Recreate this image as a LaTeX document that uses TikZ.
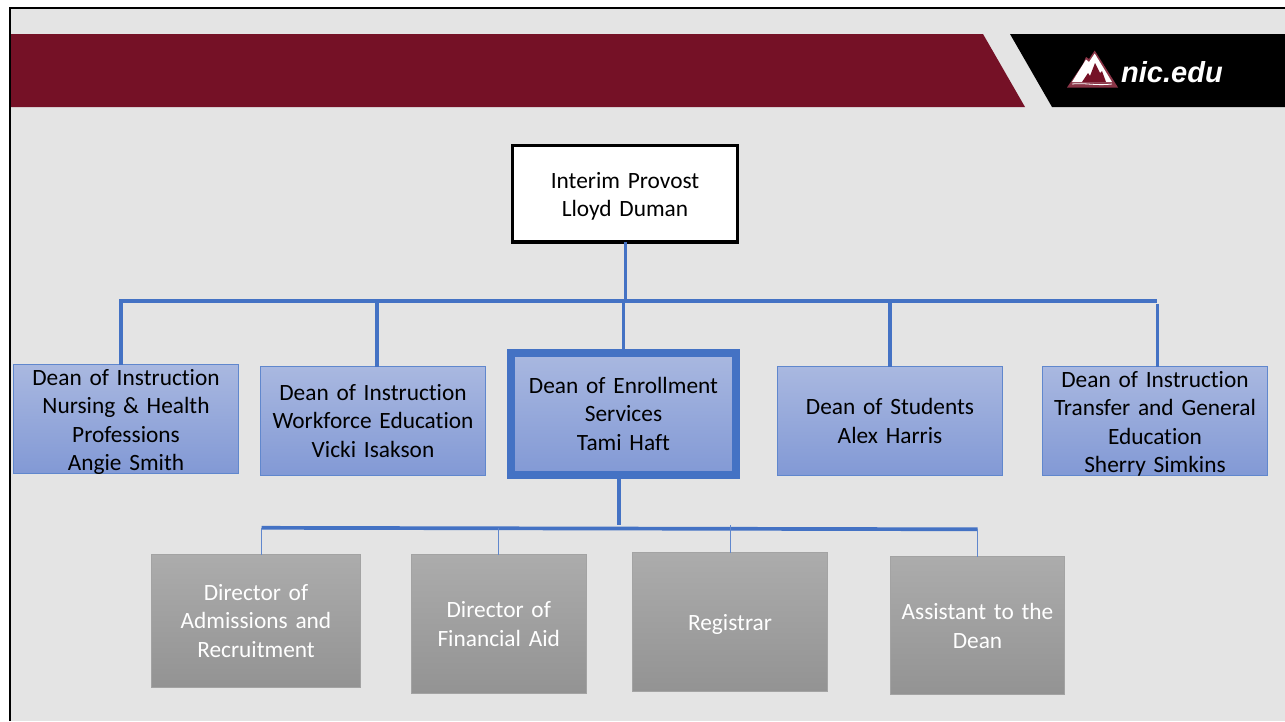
\documentclass[tikz,border=0pt]{standalone}
\usepackage{fontspec}
\setmainfont{Carlito}[Ligatures=NoCommon,WordSpace=0.75]
\newfontfamily\logofont{Liberation Sans}
\definecolor{bg}{HTML}{E4E4E4}
\definecolor{maroon}{HTML}{751126}
\definecolor{linkblue}{HTML}{4472C4}
\definecolor{bluetop}{HTML}{A9B8E0}
\definecolor{bluebot}{HTML}{8299D5}
\definecolor{greytop}{HTML}{ACACAC}
\definecolor{greybot}{HTML}{939393}
\definecolor{greyedge}{HTML}{A3A3A3}
\tikzset{
  x=1pt,y=-1pt,
  boxbase/.style={anchor=north west,inner sep=0pt,outer sep=0pt,align=center,font=\fontsize{23.35}{28.6}\selectfont},
  above centre/.style={text height=0pt,text depth=#1*2},
  below centre/.style={text height=#1*2,text depth=0pt},
  provost/.style={boxbase,draw=black,line width=3.5pt,fill=white,text=black},
  dean/.style={boxbase,draw=linkblue!85!white,line width=1pt,top color=bluetop,bottom color=bluebot,text=black},
  chosen/.style={boxbase,draw=linkblue,line width=8pt,top color=bluetop,bottom color=bluebot,text=black},
  staff/.style={boxbase,draw=greyedge,line width=1pt,top color=greytop,bottom color=greybot,text=white},
  bus/.style={draw=linkblue,line width=3.7pt},
  drop/.style={draw=linkblue,line width=3.3pt},
  thin drop/.style={draw=linkblue!85!white,line width=1pt},
}
\newcommand{\boxat}[7]{% style,name,x0,y0,x1,y1,text
  \pgfmathsetmacro{\bw}{#5-#3}\pgfmathsetmacro{\bh}{#6-#4}
  \node[#1,minimum width=\bw pt,minimum height=\bh pt,text width=\bw pt] (#2) at (#3,#4) {#7};
}
\begin{document}
\begin{tikzpicture}
\useasboundingbox (0,0) rectangle (1285,721);
\fill[white] (0,0) rectangle (1285,721);
\fill[bg] (9,8) rectangle (1285,721);
\draw[black,line width=2.2pt] (9.6,721) -- (9.6,8.3) -- (1285,8.3);
% banner
\fill[maroon] (11,34) -- (983,34) -- (1025,107) -- (11,107) -- cycle;
\fill[black] (1010,34) -- (1285,34) -- (1285,107) -- (1052,107) -- cycle;
% logo
\fill[maroon!85!white] (1067,87.5) -- (1083,64) -- (1086,57) -- (1089,59) -- (1094.7,50.5) -- (1118,87.5) -- cycle;
\fill[white] (1072,82) -- (1086,59.5) -- (1089,62) -- (1094.7,53.5) -- (1112,82) -- cycle;
\fill[maroon] (1082,82) -- (1088,73) -- (1090,76) -- (1095,63) -- (1100,73) -- (1102,71) -- (1106,82) -- cycle;
\draw[white,line width=0.8pt] (1072,84) .. controls (1085,82.5) and (1095,86) .. (1112,84);
\node[inner sep=0pt,anchor=west,text=white,font=\logofont\bfseries\itshape\fontsize{29}{30}\selectfont] (logo) at (1121,72) {nic.edu};
% boxes
\boxat{provost,above centre=5.75pt}{prov}{512.5}{145.5}{737.5}{242}{Interim Provost\\Lloyd Duman}
\boxat{dean,above centre=33.75pt}{d1}{13.5}{364.5}{238.5}{473}{Dean of Instruction\\Nursing \& Health\\Professions\\Angie Smith}
\boxat{dean,above centre=20.75pt}{d2}{260.5}{366.5}{485.5}{475}{Dean of Instruction\\Workforce Education\\Vicki Isakson}
\boxat{chosen,above centre=20.75pt}{d3}{511}{353}{736}{475}{Dean of Enrollment\\Services\\Tami Haft}
\boxat{dean,above centre=6pt}{d4}{777.5}{366.5}{1002.5}{475}{Dean of Students\\Alex Harris}
\boxat{dean,above centre=33.75pt}{d5}{1042.5}{366.5}{1267.5}{475}{Dean of Instruction\\Transfer and General\\Education\\Sherry Simkins}
\boxat{staff,above centre=20.75pt}{s1}{151.5}{554.5}{360.5}{687}{Director of\\Admissions and\\Recruitment}
\boxat{staff,above centre=6.25pt}{s2}{411.5}{554.5}{586}{693}{Director of\\Financial Aid}
\boxat{staff,below centre=9pt}{s3}{632.5}{552.5}{827.5}{691}{Registrar}
\boxat{staff,above centre=6pt}{s4}{890.5}{556.5}{1064.5}{694.5}{Assistant to the\\Dean}
% connector junctions
\coordinate (t1) at (121,301);
\coordinate (t2) at (377,301);
\coordinate (t3) at (623.5,301);
\coordinate (tp) at (625.5,301);
\coordinate (t4) at (890,301);
\coordinate (t5) at (1157.3,301);
\coordinate (t5d) at (1157.8,303.5);
\coordinate (b0) at (261.5,527.8);
\coordinate (bm) at (619,525);
\coordinate (b2) at (498.5,528);
\coordinate (b3) at (730,525);
\coordinate (b5) at (977.5,529.3);
% upper tree
\draw[bus] (prov.south -| tp) -- (tp);
\draw[bus] (t1) -- (t5);
\draw[drop] (t1) ++(0,-1.7) -- (t1 |- d1.north);
\draw[drop] (t2) -- (t2 |- d2.north);
\draw[drop] (t3) -- (t3 |- d3.north);
\draw[drop] (t4) -- (t4 |- d4.north);
\draw[drop] (t5d) -- (t5d |- d5.north);
% lower tree
\draw[drop,line width=4pt] (d3.south -| bm) -- (bm);
\draw[bus] (b0) -- (b5);
\draw[thin drop] (b0) -- (b0 |- s1.north);
\draw[thin drop] (b2) -- (b2 |- s2.north);
\draw[thin drop] (b3) -- (b3 |- s3.north);
\draw[thin drop] (b5) -- (b5 |- s4.north);
\end{tikzpicture}
\end{document}
